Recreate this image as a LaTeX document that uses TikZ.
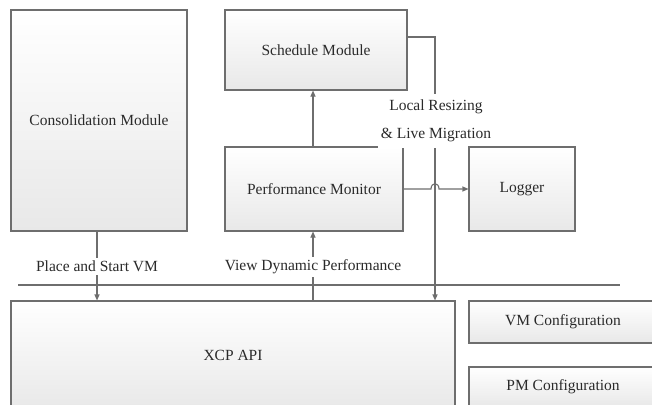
\documentclass[tikz,border=0pt]{standalone}
\usepackage{fontspec}
\setmainfont{Liberation Serif}
\usetikzlibrary{arrows.meta}
\definecolor{lc}{HTML}{6E6E6E}
\definecolor{tc}{HTML}{2A2A2A}
\tikzset{
  box/.style={draw=lc, line width=1.1pt, top color=white, bottom color=black!9, text=tc,
    font=\fontsize{15.5}{18}\selectfont, inner sep=0pt},
  conn/.style={draw=lc, line width=1.1pt},
  arr/.style={conn, -{Triangle[length=6pt,width=5pt]}},
  lbl/.style={fill=white, text=tc, font=\fontsize{15.5}{18}\selectfont, inner xsep=2pt, inner ysep=3pt}
}
\begin{document}
\begin{tikzpicture}[x=1pt,y=-1pt]
\useasboundingbox (0,0) rectangle (652,404);
\clip (0,0) rectangle (652,404);
\fill[white] (0,0) rectangle (652,404);
% boxes
\node[box, minimum width=176pt, minimum height=221pt] (cons) at (99,120.5) {Consolidation Module};
\node[box, minimum width=182pt, minimum height=80pt] (sched) at (316,50) {Schedule Module};
\node[box, minimum width=178pt, minimum height=84pt] (perf) at (314,189) {Performance Monitor};
\node[box, minimum width=444pt, minimum height=109pt] (xcp) at (233,355.5) {XCP API};
\node[box, minimum width=188pt, minimum height=42pt] (vm) at (563,322) {VM Configuration};
\node[box, minimum width=188pt, minimum height=40pt] (pm) at (563,387) {PM Configuration};
% bus line
\coordinate (hl1) at (18,285);
\coordinate (hl2) at (620,285);
\draw[conn] (hl1) -- (hl2);
% schedule -> xcp
\coordinate (c3) at (435,37);
\draw[arr] (sched.east |- c3) -- (c3) -- (xcp.north -| c3);
\node[lbl, align=center, font=\fontsize{15.5}{28}\selectfont, inner xsep=3pt, inner ysep=6pt] (loc) at (436,121) {Local Resizing\\\& Live Migration};
\node[box, minimum width=106pt, minimum height=84pt] (logger) at (522,189) {Logger};
% other connectors
\coordinate (c1) at (97,0);
\coordinate (c2) at (313,0);
\draw[arr] (cons.south -| c1) -- (xcp.north -| c1) node[lbl, pos=0.51] {Place and Start VM};
\draw[arr] (xcp.north -| c2) -- (perf.south -| c2) node[lbl, pos=0.486] {View Dynamic Performance};
\draw[arr] (perf.north -| c2) -- (sched.south -| c2);
\coordinate (h1) at (431,189);
\coordinate (h2) at (439,189);
\draw[arr] (perf.east |- h1) -- (h1) .. controls (431,182) and (439,182) .. (h2) -- (logger.west |- h2);
\end{tikzpicture}
\end{document}
